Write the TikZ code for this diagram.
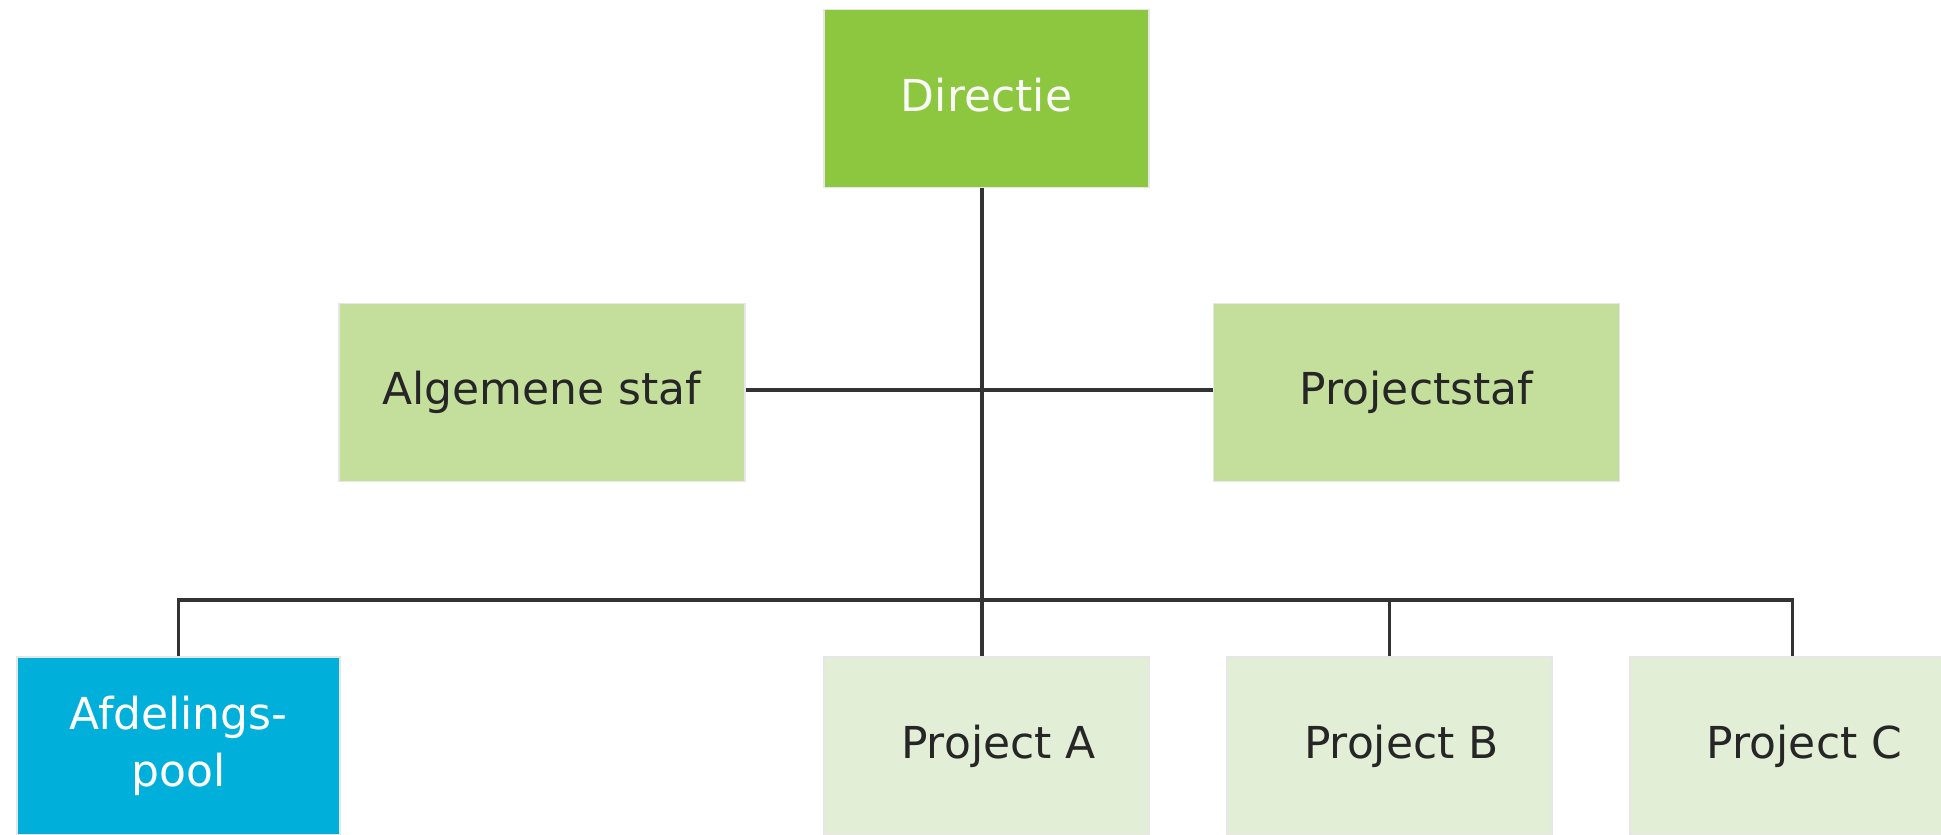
\documentclass[tikz,border=0pt]{standalone}
\usepackage{fontspec}
\setmainfont{DejaVu Sans}
\definecolor{dirgreen}{HTML}{8DC63F}
\definecolor{stafgreen}{HTML}{C4DF9B}
\definecolor{projgreen}{HTML}{E2EFD6}
\definecolor{poolblue}{HTML}{00B0DB}
\definecolor{edgegrey}{HTML}{E6E6E6}
\begin{document}
\begin{tikzpicture}[x=1pt,y=1pt,
  box/.style={rectangle, inner sep=0pt, minimum width=325pt, minimum height=178pt,
    draw=edgegrey, line width=1.2pt, align=center, text=black!85,
    font=\fontsize{44}{57}\selectfont},
  topbox/.style={box, fill=dirgreen, text=white!96!dirgreen},
  stafbox/.style={box, fill=stafgreen, minimum width=406pt},
  projbox/.style={box, fill=projgreen},
  poolbox/.style={box, fill=poolblue, text=white, minimum width=323pt},
  link/.style={draw=black!80, line width=3.6pt}]
\useasboundingbox (0,0) rectangle (1941,835);
\clip (0,0) rectangle (1941,835);

% organisation boxes
\node[topbox]  (dir)  at (986.5,736.5) {\raisebox{8pt}{Directie}};
\node[stafbox] (as)   at (542,442.5)   {Algemene staf};
\node[stafbox] (ps)   at (1416.5,442.5) {Projectstaf};
\node[poolbox] (pool) at (178.5,89)    {Afdelings-\\pool};
\node[projbox] (pa)   at (986.5,89)    {\hspace*{24pt}Project A};
\node[projbox] (pb)   at (1389.5,89)   {\hspace*{24pt}Project B};
\node[projbox] (pc)   at (1792.5,89)   {\hspace*{24pt}Project C};

% reference lines of the connectors
\coordinate (spine) at (982,0);
\coordinate (staf)  at (0,445);
\coordinate (bus)   at (0,235);

% connectors
\draw[link] (dir.south -| spine) -- (pa.north -| spine);
\draw[link] (as.east |- staf) -- (ps.west |- staf);
\draw[link] (pool.north) -- (pool.north |- bus) -| (pc.north);
\draw[link] (pb.north) -- (pb.north |- bus);
\end{tikzpicture}
\end{document}
